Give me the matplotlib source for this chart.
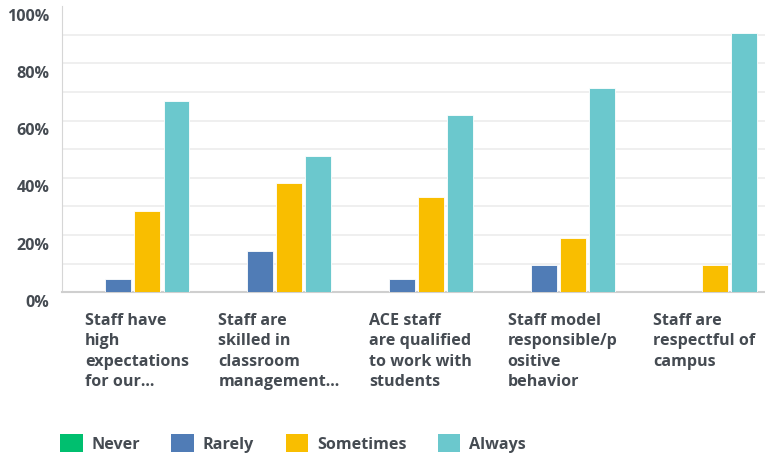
import numpy as np
import matplotlib
matplotlib.use('Agg')
import matplotlib.pyplot as plt
from matplotlib.patches import Patch
from matplotlib.transforms import ScaledTranslation, blended_transform_factory

# Datos (porcentaje de respuestas, n = 21)
categorias = ['Staff have\nhigh\nexpectations\nfor our...',
              'Staff are\nskilled in\nclassroom\nmanagement...',
              'ACE staff\nare qualified\nto work with\nstudents',
              'Staff model\nresponsible/p\nositive\nbehavior',
              'Staff are\nrespectful of\ncampus']
series = ['Never', 'Rarely', 'Sometimes', 'Always']
never = [0.0, 0.0, 0.0, 0.0, 0.0]
rarely = [4.76, 14.29, 4.76, 9.52, 0.0]
sometimes = [28.57, 38.10, 33.33, 19.05, 9.52]
always = [66.67, 47.62, 61.90, 71.43, 90.48]
colores = ['#00bf6f', '#507cb6', '#f9be00', '#6bc8cd']

plt.rcParams['font.family'] = ['Open Sans', 'DejaVu Sans']
texto = '#454b52'
tam = 11.6

W, H = 765, 460
fig = plt.figure(figsize=(W / 100, H / 100), dpi=100)
ax = fig.add_axes([62 / W, (H - 293.3) / H, (771 - 62) / W, (293.3 - 7) / H])

x = np.arange(len(categorias))
ancho = 0.183
paso = 0.205
for k, (nombre, valores) in enumerate(zip(series, [never, rarely, sometimes, always])):
    ax.bar(x + (k - 1.5) * paso, valores, ancho, color=colores[k],
           edgecolor='white', linewidth=0.6, zorder=3)

# lineas de la grilla cada 10%
for yy in range(10, 100, 10):
    ax.axhline(yy, color='#ececec', lw=1.2, zorder=1)

ax.set_xlim(-0.5, 4.5)
ax.set_ylim(0, 100)
ax.set_yticks(range(0, 101, 20))
ax.set_yticklabels([f'{v}%' for v in range(0, 101, 20)])
ax.tick_params(axis='y', length=0, pad=9, labelsize=tam, labelcolor=texto)
ax.tick_params(axis='x', length=0, labelbottom=False)
desplaza = ScaledTranslation(0, -7.7 / 100, fig.dpi_scale_trans)
for lab in ax.get_yticklabels():
    lab.set_transform(lab.get_transform() + desplaza)
    lab.set_fontweight('bold')

for s in ['top', 'right']:
    ax.spines[s].set_visible(False)
ax.spines['left'].set_color('#d6d6d6')
ax.spines['bottom'].set_color('#cfcfcf')
ax.spines['bottom'].set_linewidth(1.5)

# etiquetas de las categorias
trans = blended_transform_factory(ax.transData, fig.transFigure)
for i, cat in enumerate(categorias):
    ax.text(i + 0.03, 1 - 313 / H, cat, transform=trans, ha='center', va='top',
            multialignment='left', fontsize=tam, fontweight='bold',
            color=texto, linespacing=1.36)

manijas = [Patch(facecolor=c, edgecolor='none') for c in colores]
fig.legend(manijas, series, loc='center left', bbox_to_anchor=(60 / W, 1 - 444 / H),
           ncol=4, frameon=False, borderpad=0, borderaxespad=0,
           handlelength=1.4, handleheight=1.4, handletextpad=0.55,
           columnspacing=1.95, prop={'size': tam, 'weight': 'bold'},
           labelcolor=texto)

fig.savefig('out.png', dpi=100)
